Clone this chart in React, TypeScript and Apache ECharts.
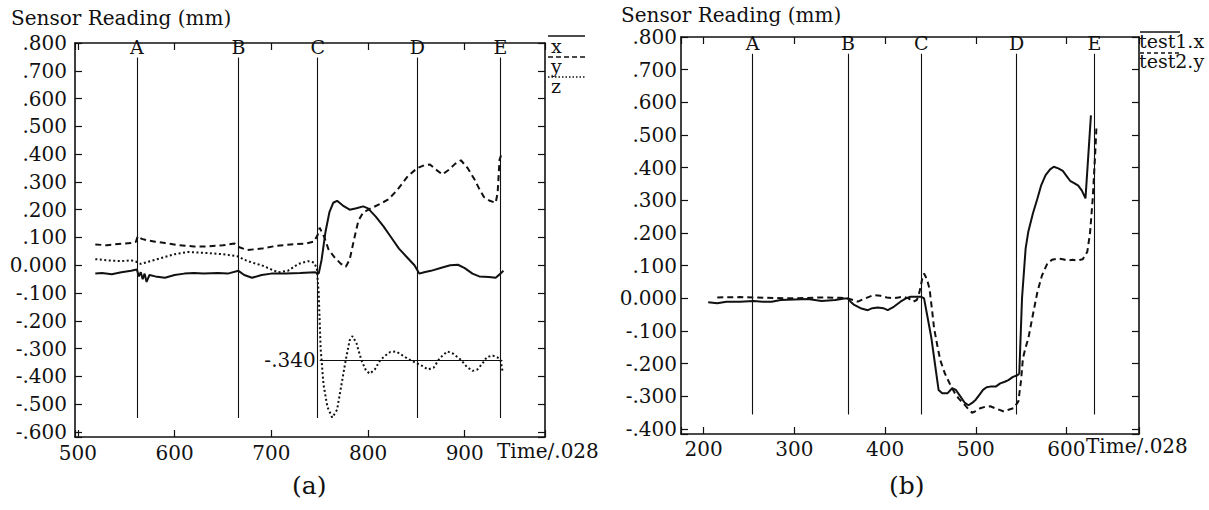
import React, { useEffect, useRef } from "react";
import * as echarts from "echarts";

const FONT = '"DejaVu Serif", serif';

// ---------- panel (a) data ----------
const aSeriesX: [number, number][] = [
  [518, -0.03], [525, -0.028], [535, -0.032], [545, -0.025], [555, -0.02], [561, -0.015], [563, -0.04],
  [565, -0.025], [567, -0.05], [569, -0.03], [571, -0.06], [574, -0.035], [580, -0.04], [590, -0.045],
  [600, -0.035], [610, -0.03], [620, -0.028], [630, -0.03], [645, -0.028], [655, -0.03], [666, -0.02],
  [672, -0.035], [680, -0.045], [690, -0.035], [700, -0.03], [715, -0.03], [730, -0.028], [745, -0.025],
  [749, -0.03], [752, 0.02], [756, 0.12], [760, 0.19], [764, 0.225], [768, 0.232], [774, 0.215],
  [781, 0.2], [788, 0.205], [795, 0.212], [800, 0.205], [808, 0.175], [816, 0.14], [824, 0.1],
  [832, 0.06], [840, 0.03], [848, 0.0], [853, -0.03], [858, -0.025], [865, -0.02], [875, -0.01],
  [885, 0.0], [893, 0.002], [900, -0.01], [908, -0.03], [915, -0.04], [925, -0.042], [932, -0.045],
  [937, -0.03], [940, -0.02],
];
const aSeriesY: [number, number][] = [
  [518, 0.075], [530, 0.072], [545, 0.078], [555, 0.08], [560, 0.085], [562, 0.105], [566, 0.095],
  [572, 0.09], [580, 0.085], [590, 0.08], [605, 0.072], [620, 0.068], [635, 0.068], [650, 0.072],
  [662, 0.078], [667, 0.065], [675, 0.055], [690, 0.06], [705, 0.07], [720, 0.075], [735, 0.078],
  [744, 0.085], [748, 0.11], [750, 0.135], [755, 0.1], [759, 0.058], [765, 0.03], [772, 0.005],
  [777, -0.005], [781, 0.02], [786, 0.1], [790, 0.16], [795, 0.19], [803, 0.205], [812, 0.22],
  [821, 0.237], [830, 0.27], [841, 0.32], [851, 0.35], [858, 0.36], [864, 0.363], [870, 0.345],
  [877, 0.327], [884, 0.345], [890, 0.365], [896, 0.378], [903, 0.35], [910, 0.31], [915, 0.275],
  [920, 0.245], [926, 0.232], [932, 0.225], [934, 0.26], [936, 0.38], [938, 0.4],
];
const aSeriesZ: [number, number][] = [
  [518, 0.022], [530, 0.018], [545, 0.015], [555, 0.018], [561, 0.012], [565, 0.005], [572, 0.012],
  [585, 0.025], [600, 0.04], [614, 0.048], [630, 0.045], [650, 0.04], [666, 0.032], [672, 0.02],
  [680, 0.01], [690, 0.0], [700, -0.015], [707, -0.025], [717, -0.02], [728, 0.005], [738, 0.015],
  [744, 0.01], [747, -0.01], [749, -0.1], [751, -0.3], [754, -0.43], [758, -0.51], [763, -0.548],
  [768, -0.52], [772, -0.44], [777, -0.34], [781, -0.27], [784, -0.255], [788, -0.28], [793, -0.34],
  [798, -0.38], [802, -0.39], [807, -0.375], [812, -0.345], [817, -0.327], [823, -0.312], [829, -0.31],
  [836, -0.325], [843, -0.34], [850, -0.352], [856, -0.362], [862, -0.375], [868, -0.368], [874, -0.335],
  [882, -0.31], [888, -0.318], [896, -0.34], [902, -0.365], [908, -0.38], [913, -0.375], [918, -0.355],
  [923, -0.33], [929, -0.325], [934, -0.332], [937, -0.34], [939, -0.38],
];
const aMarkTimes = [561, 666, 748, 851, 937];
const aMarkSpan = [0.748, -0.55];
const aRefLevel = -0.34;
const aRefSpan = [750, 939];
const aRefLabel = "-.340";

// ---------- panel (b) data ----------
const bTest1X: [number, number][] = [
  [205, -0.012], [215, -0.015], [225, -0.01], [240, -0.01], [255, -0.008], [265, -0.01], [275, -0.01],
  [285, -0.005], [300, -0.003], [315, -0.002], [330, -0.008], [345, -0.005], [355, 0.0], [359, 0.0],
  [362, -0.01], [366, -0.02], [373, -0.03], [381, -0.036], [386, -0.03], [392, -0.028], [398, -0.03],
  [403, -0.036], [410, -0.025], [417, -0.01], [423, 0.0], [428, 0.005], [435, 0.005], [440, 0.005],
  [443, 0.0], [447, -0.06], [451, -0.12], [455, -0.2], [459, -0.28], [463, -0.29], [469, -0.29],
  [474, -0.275], [478, -0.28], [483, -0.3], [488, -0.32], [492, -0.327], [496, -0.32], [500, -0.31],
  [504, -0.295], [508, -0.28], [512, -0.272], [516, -0.27], [522, -0.27], [527, -0.26], [532, -0.255],
  [536, -0.25], [541, -0.24], [546, -0.235], [548, -0.23], [551, 0.0], [555, 0.153], [558, 0.205],
  [563, 0.26], [568, 0.306], [572, 0.345], [577, 0.377], [582, 0.395], [586, 0.403], [591, 0.398],
  [596, 0.39], [600, 0.375], [604, 0.36], [609, 0.352], [613, 0.345], [617, 0.33], [621, 0.306],
  [627, 0.56],
];
const bTest2Y: [number, number][] = [
  [215, 0.003], [240, 0.004], [270, 0.002], [300, 0.0], [330, 0.003], [350, 0.002], [359, 0.0],
  [365, -0.005], [370, -0.01], [378, 0.0], [387, 0.01], [395, 0.008], [402, 0.003], [409, 0.0],
  [415, 0.003], [420, 0.005], [426, 0.0], [431, -0.01], [435, -0.005], [438, 0.02], [441, 0.06],
  [443, 0.076], [446, 0.06], [449, 0.03], [452, -0.04], [454, -0.09], [458, -0.15], [461, -0.19],
  [466, -0.23], [472, -0.265], [477, -0.29], [481, -0.306], [486, -0.32], [491, -0.336], [496, -0.35],
  [500, -0.345], [505, -0.336], [510, -0.332], [516, -0.33], [523, -0.338], [531, -0.346], [537, -0.34],
  [542, -0.336], [547, -0.315], [550, -0.25], [552, -0.183], [555, -0.15], [558, -0.122], [563, -0.05],
  [568, 0.02], [573, 0.07], [579, 0.107], [584, 0.118], [590, 0.122], [596, 0.12], [601, 0.116],
  [607, 0.118], [612, 0.116], [618, 0.12], [623, 0.143], [626, 0.2], [629, 0.306], [632, 0.46],
  [633, 0.52],
];
const bMarkTimes = [254, 359, 440, 545, 631];
const bMarkSpan = [0.749, -0.355];

const markNames = ["A", "B", "C", "D", "E"];
const axisTitle = "Sensor Reading (mm)";
const timeTitle = "Time/.028";

const fmtY = (v: number) => {
  const k = Math.round(v * 10);
  if (Math.abs(v * 10 - k) > 1e-6) return "";
  if (k === 0) return "0.000";
  const s = Math.abs(k / 10).toFixed(3).replace(/^0/, "");
  return (k < 0 ? "-" : "") + s;
};
const fmtX = (v: number) => (Math.abs(v / 100 - Math.round(v / 100)) < 1e-6 ? String(Math.round(v)) : "");

const black = "#111";
const TICK_FS = 20;

function xAxes(grid: number, min: number, max: number, margin: number) {
  const common = {
    type: "value" as const,
    gridIndex: grid,
    min,
    max,
    splitNumber: 5,
    splitLine: { show: false },
    axisLine: { show: true, onZero: false, lineStyle: { color: black, width: 1.6 } },
    axisTick: { show: true, inside: true, length: 7, lineStyle: { color: black, width: 1.2 } },
  };
  return [
    {
      ...common,
      position: "bottom",
      axisLabel: { show: true, formatter: fmtX, color: black, fontFamily: FONT, fontSize: TICK_FS, margin },
    },
    { ...common, position: "top", axisLabel: { show: false } },
  ];
}
function yAxes(grid: number, min: number, max: number, split: number, margin: number) {
  const common = {
    type: "value" as const,
    gridIndex: grid,
    min,
    max,
    splitNumber: split,
    splitLine: { show: false },
    axisLine: { show: true, onZero: false, lineStyle: { color: black, width: 1.6 } },
    axisTick: { show: true, inside: true, length: 7, lineStyle: { color: black, width: 1.2 } },
  };
  return [
    {
      ...common,
      position: "left",
      axisLabel: { show: true, formatter: fmtY, color: black, fontFamily: FONT, fontSize: TICK_FS, margin },
    },
    { ...common, position: "right", axisLabel: { show: false } },
  ];
}

function markerLines(times: number[], span: number[]) {
  return {
    silent: true,
    symbol: ["none", "none"],
    animation: false,
    lineStyle: { color: black, width: 1.1, type: "solid" },
    label: {
      show: true,
      position: "start",
      formatter: "{b}",
      color: black,
      fontFamily: FONT,
      fontSize: 19,
      distance: 1,
    },
    emphasis: { disabled: true },
    data: times.map((t, i) => [
      { coord: [t, span[0]], name: markNames[i] },
      { coord: [t, span[1]] },
    ]),
  };
}

function lineSeries(data: [number, number][], xi: number, yi: number, type: any, width: number, extra: any = {}) {
  return {
    type: "line",
    xAxisIndex: xi,
    yAxisIndex: yi,
    data,
    showSymbol: false,
    symbol: "none",
    smooth: false,
    lineStyle: { color: black, width, type },
    emphasis: { disabled: true },
    ...extra,
  };
}

const t = (text: string, left: number, top: number, size: number) => ({
  type: "text",
  left,
  top,
  style: { text, font: `${size}px ${FONT}`, fill: black },
});

export default function App() {
  const ref = useRef<HTMLDivElement>(null);
  useEffect(() => {
    const chart = echarts.init(ref.current!, null, { renderer: "svg" });
    const option: any = {
      animation: false,
      backgroundColor: "#fff",
      grid: [
        { left: 75, top: 43, width: 470, height: 394 },
        { left: 681, top: 37, width: 458, height: 397 },
      ],
      xAxis: [...xAxes(0, 497, 983, 6), ...xAxes(1, 175, 680, 5)],
      yAxis: [...yAxes(0, -0.618, 0.8, 14, 8), ...yAxes(1, -0.415, 0.8, 12, 4)],
      series: [
        lineSeries(aSeriesX, 0, 0, "solid", 2, { markLine: markerLines(aMarkTimes, aMarkSpan) }),
        lineSeries(aSeriesY, 0, 0, [6, 4], 2),
        lineSeries(aSeriesZ, 0, 0, [2, 2.5], 2, {
          markLine: {
            silent: true,
            symbol: ["none", "none"],
            animation: false,
            lineStyle: { color: black, width: 1.1, type: "solid" },
            label: {
              show: true,
              position: "start",
              formatter: aRefLabel,
              color: black,
              fontFamily: FONT,
              fontSize: TICK_FS,
              distance: 4,
            },
            data: [[{ coord: [aRefSpan[0], aRefLevel] }, { coord: [aRefSpan[1], aRefLevel] }]],
          },
        }),
        lineSeries(bTest1X, 2, 2, "solid", 2, { markLine: markerLines(bMarkTimes, bMarkSpan) }),
        lineSeries(bTest2Y, 2, 2, [6, 4], 2),
      ],
      graphic: [
        t(axisTitle, 11, 8, 20),
        t(axisTitle, 621, 5, 20),
        t(timeTitle, 497, 441, TICK_FS),
        t(timeTitle, 1086, 436, TICK_FS),
        t("(a)", 292, 473, 25),
        t("(b)", 889, 473, 25),
        // legend (a)
        { type: "line", shape: { x1: 548, y1: 36, x2: 585, y2: 36 }, style: { stroke: black, lineWidth: 1.6 } },
        t("x", 551, 36, 19),
        { type: "line", shape: { x1: 548, y1: 57, x2: 585, y2: 57 }, style: { stroke: black, lineWidth: 1.6, lineDash: [5, 3] } },
        t("y", 551, 56, 19),
        { type: "line", shape: { x1: 548, y1: 77, x2: 585, y2: 77 }, style: { stroke: black, lineWidth: 1.6, lineDash: [1.5, 2] } },
        t("z", 551, 76, 19),
        // legend (b)
        { type: "line", shape: { x1: 1140, y1: 32, x2: 1180, y2: 32 }, style: { stroke: black, lineWidth: 1.6 } },
        t("test1.x", 1139, 31, 19),
        { type: "line", shape: { x1: 1140, y1: 53, x2: 1180, y2: 53 }, style: { stroke: black, lineWidth: 1.6, lineDash: [4, 3] } },
        t("test2.y", 1139, 51, 19),
      ],
    };
    chart.setOption(option);
    return () => chart.dispose();
  }, []);
  return (
    <div
      ref={ref}
      style={{ position: "absolute", left: 0, top: 0, width: 1209, height: 510, background: "#fff" }}
    />
  );
}
